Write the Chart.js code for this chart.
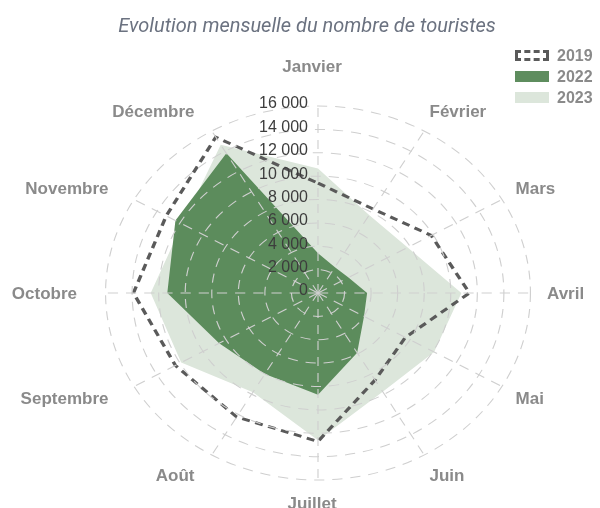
<!DOCTYPE html>
<html lang="fr">
<head>
<meta charset="utf-8">
<script src="https://cdn.jsdelivr.net/npm/chart.js@4.4.1/dist/chart.umd.min.js"></script>
<style>
  html, body { margin: 0; padding: 0; background: #fff; }
  #wrap { position: relative; width: 600px; height: 508px; }
  #title { position: absolute; left: 0; top: 13px; width: 614px; text-align: center;
           font: italic 20px Roboto, sans-serif; color: #6b7280; }
  #legend { position: absolute; left: 515px; top: 45px; margin: 0; padding: 0; list-style: none; }
  #legend li { height: 21px; display: flex; align-items: center;
               font: bold 16px "Liberation Sans", Arial, sans-serif; color: #8a8a8a; }
  #legend span.box { width: 34px; height: 11px; margin-right: 8px; box-sizing: border-box; }
</style>
</head>
<body>
<div id="wrap">
  <canvas id="chart" width="600" height="508"></canvas>
  <div id="title">Evolution mensuelle du nombre de touristes</div>
  <ul id="legend"></ul>
</div>
<script>
// Data
const months = ['Janvier', 'Février', 'Mars', 'Avril', 'Mai', 'Juin',
  'Juillet', 'Août', 'Septembre', 'Octobre', 'Novembre', 'Décembre'];
const visitors2019 = [9400, 8300, 9850, 11400, 7600, 8600, 12700, 12250, 12400, 13900, 13200, 15400];
const visitors2022 = [3400, 2550, 2650, 3700, 4000, 5900, 8700, 8000, 8600, 11350, 12400, 13800];
const visitors2023 = [10650, 7700, 7800, 10800, 10100, 9750, 12600, 9800, 11900, 12600, 11800, 14650];
const tickMax = 16000;
const tickStep = 2000;

// the polar grid of the original is wider than tall
const SX = 1.136;

function frNumber(v) {
  return String(v).replace(/\B(?=(\d{3})+(?!\d))/g, ' ');
}

// stretch datasets + grid horizontally, then draw the texts unstretched
const ellipsePlugin = {
  id: 'ellipse',
  beforeDatasetsDraw(chart) {
    const r = chart.scales.r;
    const ctx = chart.ctx;
    ctx.save();
    ctx.translate(r.xCenter, r.yCenter);
    ctx.scale(SX, 1);
    ctx.translate(-r.xCenter, -r.yCenter);
  },
  afterDraw(chart) {
    const r = chart.scales.r;
    const ctx = chart.ctx;
    ctx.restore();

    ctx.save();
    // tick labels, right aligned next to the vertical axis
    ctx.font = '16px "Liberation Sans", Arial, sans-serif';
    ctx.fillStyle = '#3d3d3d';
    ctx.textAlign = 'right';
    ctx.textBaseline = 'middle';
    r.ticks.forEach(t => {
      const y = r.yCenter - r.getDistanceFromCenterForValue(t.value);
      ctx.fillText(frNumber(t.value), r.xCenter - 10, y - 2);
    });

    // month labels
    ctx.font = 'bold 17px "Liberation Sans", Arial, sans-serif';
    ctx.fillStyle = '#8a8a8a';
    const dist = 210, wide = 235 / 210;
    chart.data.labels.forEach((label, i) => {
      const p = r.getPointPosition(i, dist);
      const dx = p.x - r.xCenter;
      const x = r.xCenter + dx * wide - 6;
      let y = p.y + 1;
      ctx.textAlign = Math.abs(dx) < 1 ? 'center' : (dx > 0 ? 'left' : 'right');
      ctx.textBaseline = 'middle';
      if (Math.abs(dx) < 1 && p.y < r.yCenter) {
        ctx.textBaseline = 'bottom';
        y = p.y - 7;
      }
      ctx.fillText(label, x, y);
    });
    ctx.restore();
  }
};

const ctx = document.getElementById('chart').getContext('2d');
const chart = new Chart(ctx, {
  type: 'radar',
  data: {
    labels: months,
    datasets: [
      {
        label: '2019',
        data: visitors2019,
        fill: false,
        borderColor: '#5a5a5a',
        backgroundColor: 'rgba(0,0,0,0)',
        borderWidth: 3,
        borderDash: [7, 5],
        pointRadius: 0
      },
      {
        label: '2022',
        data: visitors2022,
        fill: true,
        backgroundColor: 'rgba(82,132,82,0.93)',
        borderWidth: 0,
        pointRadius: 0
      },
      {
        label: '2023',
        data: visitors2023,
        fill: true,
        backgroundColor: '#dce6db',
        borderWidth: 0,
        pointRadius: 0
      }
    ]
  },
  options: {
    responsive: false,
    animation: false,
    devicePixelRatio: 1,
    layout: {
      padding: { left: 130.5, right: 94.5, top: 105.5, bottom: 27.5 }
    },
    plugins: {
      legend: { display: false },
      title: { display: false },
      tooltip: { enabled: false }
    },
    scales: {
      r: {
        min: 0,
        max: tickMax,
        ticks: { stepSize: tickStep, display: false, z: 1 },
        pointLabels: { display: false },
        grid: { circular: true, color: '#cfcfcf', lineWidth: 1, z: 1 },
        border: { dash: [9, 7] },
        angleLines: { color: '#cfcfcf', lineWidth: 1, borderDash: [9, 7] }
      }
    }
  },
  plugins: [ellipsePlugin]
});

// legend
const legend = document.getElementById('legend');
chart.data.datasets.forEach(ds => {
  const li = document.createElement('li');
  const box = document.createElement('span');
  box.className = 'box';
  if (ds.fill) {
    box.style.background = ds.backgroundColor;
  } else {
    box.style.border = '3px dashed ' + ds.borderColor;
  }
  li.appendChild(box);
  li.appendChild(document.createTextNode(ds.label));
  legend.appendChild(li);
});
</script>
</body>
</html>
